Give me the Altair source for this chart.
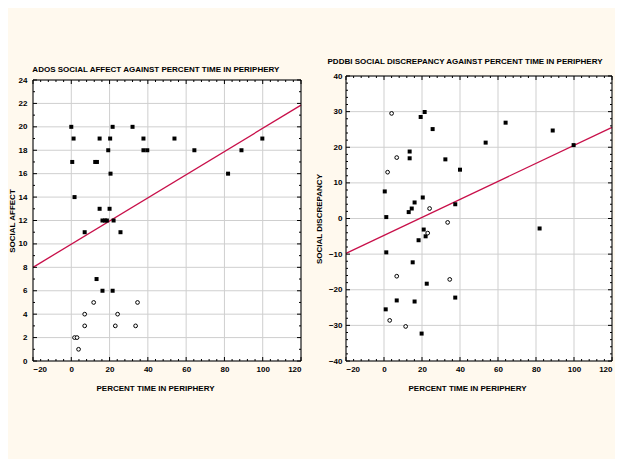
import altair as alt
import pandas as pd

# ---------------- Left panel: ADOS social affect ----------------
ados_filled_x = [0.0, 1.2, 0.5, 1.7, 14.8, 14.8, 20.3, 21.6, 19.3, 20.5, 12.5, 13.4, 32.0,
                 37.7, 37.7, 39.7, 53.9, 64.3, 81.9, 88.9, 99.8, 20.0, 16.3, 17.6, 18.6,
                 22.1, 7.0, 25.7, 13.2, 16.3, 21.6]
ados_filled_y = [20, 19, 17, 14, 19, 13, 19, 20, 18, 16, 17, 17, 20,
                 19, 18, 18, 19, 18, 16, 18, 19, 13, 12, 12, 12,
                 12, 11, 11, 7, 6, 6]
ados_open_x = [11.7, 34.6, 7.0, 24.2, 7.0, 23.0, 33.6, 1.7, 3.0, 3.8]
ados_open_y = [5, 5, 4, 4, 3, 3, 3, 2, 2, 1]
ados_fit_x = [-20, 120]
ados_fit_y = [8.0, 21.85]
ados_y_domain = [0, 24]
ados_y_major = list(range(0, 25, 2))
ados_y_minor = list(range(1, 24, 2))

# ---------------- Right panel: PDDBI social discrepancy ----------------
pddbi_filled_x = [21.4, 19.3, 25.6, 13.5, 13.5, 32.3, 40.0, 53.5, 64.0, 88.8, 99.8, 0.4,
                  20.4, 16.1, 14.6, 13.0, 37.5, 1.2, 20.9, 21.9, 18.2, 1.2, 15.1, 81.9,
                  22.5, 37.5, 6.7, 16.1, 0.9, 19.8]
pddbi_filled_y = [29.9, 28.5, 25.1, 18.8, 16.9, 16.6, 13.7, 21.3, 26.9, 24.7, 20.6, 7.6,
                  5.9, 4.5, 2.8, 1.8, 4.0, 0.4, -3.1, -5.0, -6.1, -9.5, -12.3, -2.8,
                  -18.3, -22.2, -23.0, -23.3, -25.5, -32.3]
pddbi_open_x = [4.0, 6.7, 1.9, 24.0, 33.5, 23.0, 6.7, 34.6, 3.0, 11.4]
pddbi_open_y = [29.5, 17.1, 13.0, 2.8, -1.1, -4.1, -16.2, -17.1, -28.6, -30.3]
pddbi_fit_x = [-20, 120]
pddbi_fit_y = [-9.8, 25.6]
pddbi_y_domain = [-40, 40]
pddbi_y_major = list(range(-40, 41, 10))
pddbi_y_minor = [v for v in range(-38, 40, 2) if v % 10 != 0]

# ---------------- shared x axis ----------------
x_domain = [-20, 120]
x_major = list(range(-20, 121, 20))
x_minor = [v for v in range(-16, 120, 4) if v % 20 != 0]

FONT = "Liberation Sans"
LINE_COLOR = "#C8104A"
GRID_COLOR = "#cfcfcf"


def title_params(text, offset):
    return alt.TitleParams(text, anchor="middle", frame="bounds", fontSize=8,
                           fontWeight="bold", font=FONT, color="black", offset=offset)


def panel(fx, fy, ox, oy, lx, ly, ydom, ymaj, ymin_, ytitle, w, h, gap,
          ylab_pad, ytitle_pad):
    # the plot box runs from pixel `gap` (top) to `h` (bottom)
    xs = alt.Scale(domain=x_domain, nice=False, zero=False)
    ys = alt.Scale(domain=ydom, range=[h, gap], nice=False, zero=False)
    ax = alt.Axis(values=x_major, grid=False, ticks=False, domain=False,
                  title="PERCENT TIME IN PERIPHERY", labelPadding=4,
                  titlePadding=11, titleX=w / 2 - 12)
    ay = alt.Axis(values=ymaj, grid=False, ticks=False, domain=False,
                  title=ytitle, labelPadding=ylab_pad, titlePadding=ytitle_pad)

    X = lambda f: alt.X(f, scale=xs, axis=ax)
    Y = lambda f: alt.Y(f, scale=ys, axis=ay)

    box = pd.DataFrame({"x": [x_domain[0]], "x2": [x_domain[1]],
                        "y": [ydom[0]], "y2": [ydom[1]]})
    bg = alt.Chart(box).mark_rect(color="white").encode(
        x=X("x:Q"), x2="x2:Q", y=Y("y:Q"), y2="y2:Q")
    frame = alt.Chart(box).mark_rect(fillOpacity=0, stroke="black", strokeWidth=1).encode(
        x=X("x:Q"), x2="x2:Q", y=Y("y:Q"), y2="y2:Q")

    gxd = pd.DataFrame({"v": x_major, "lo": ydom[0], "hi": ydom[1]})
    gyd = pd.DataFrame({"v": ymaj, "lo": x_domain[0], "hi": x_domain[1]})
    grid_x = alt.Chart(gxd).mark_rule(color=GRID_COLOR, strokeWidth=1).encode(
        x=X("v:Q"), y=Y("lo:Q"), y2="hi:Q")
    grid_y = alt.Chart(gyd).mark_rule(color=GRID_COLOR, strokeWidth=1).encode(
        y=Y("v:Q"), x=X("lo:Q"), x2="hi:Q")

    filled = pd.DataFrame({"x": fx, "y": fy})
    opened = pd.DataFrame({"x": ox, "y": oy})
    fit = pd.DataFrame({"x": lx, "y": ly})

    fit_line = alt.Chart(fit).mark_line(color=LINE_COLOR, strokeWidth=1.3).encode(
        x=X("x:Q"), y=Y("y:Q"))
    sq = alt.Chart(filled).mark_point(shape="square", filled=True, color="black",
                                      size=16, opacity=1).encode(
        x=X("x:Q"), y=Y("y:Q"))
    ci = alt.Chart(opened).mark_point(shape="circle", filled=False, color="black",
                                      fill="white", fillOpacity=1, size=14,
                                      strokeWidth=1, opacity=1).encode(
        x=X("x:Q"), y=Y("y:Q"))

    def xticks(vals, length):
        d = pd.DataFrame({"v": vals})
        top = alt.Chart(d).mark_rule(color="black", strokeWidth=1).encode(
            x=X("v:Q"), y=alt.value(gap), y2=alt.value(gap + length))
        bot = alt.Chart(d).mark_rule(color="black", strokeWidth=1).encode(
            x=X("v:Q"), y=alt.value(h), y2=alt.value(h - length))
        return [top, bot]

    def yticks(vals, length):
        d = pd.DataFrame({"v": vals})
        lft = alt.Chart(d).mark_rule(color="black", strokeWidth=1).encode(
            y=Y("v:Q"), x=alt.value(0), x2=alt.value(length))
        rgt = alt.Chart(d).mark_rule(color="black", strokeWidth=1).encode(
            y=Y("v:Q"), x=alt.value(w), x2=alt.value(w - length))
        return [lft, rgt]

    layers = [bg, grid_x, grid_y, fit_line] + xticks(x_major, 4) + xticks(x_minor, 2) \
        + yticks(ymaj, 4) + yticks(ymin_, 2) + [frame, sq, ci]
    return alt.layer(*layers).properties(width=w, height=h)


left = panel(ados_filled_x, ados_filled_y, ados_open_x, ados_open_y, ados_fit_x,
             ados_fit_y, ados_y_domain, ados_y_major, ados_y_minor, "SOCIAL AFFECT",
             268, 285, 4, 6, 2).properties(
    title=title_params("ADOS SOCIAL AFFECT AGAINST PERCENT TIME IN PERIPHERY", 2))
right = panel(pddbi_filled_x, pddbi_filled_y, pddbi_open_x, pddbi_open_y, pddbi_fit_x,
              pddbi_fit_y, pddbi_y_domain, pddbi_y_major, pddbi_y_minor,
              "SOCIAL DISCREPANCY", 266, 285, 0, 4, 5).properties(
    title=title_params("PDDBI SOCIAL DISCREPANCY AGAINST PERCENT TIME IN PERIPHERY", 6))

chart = alt.hconcat(left, right, spacing=11).properties(
    padding={"left": 0, "top": 50, "right": 0, "bottom": 67},
    background="#FFF9EE",
).configure_view(
    strokeWidth=0
).configure_axis(
    labelFont=FONT, labelFontSize=8, labelFontWeight="bold", labelColor="black",
    titleFont=FONT, titleFontSize=8, titleFontWeight="bold", titleColor="black"
)

chart.save("out.html", embed_options={"renderer": "svg", "actions": False})
